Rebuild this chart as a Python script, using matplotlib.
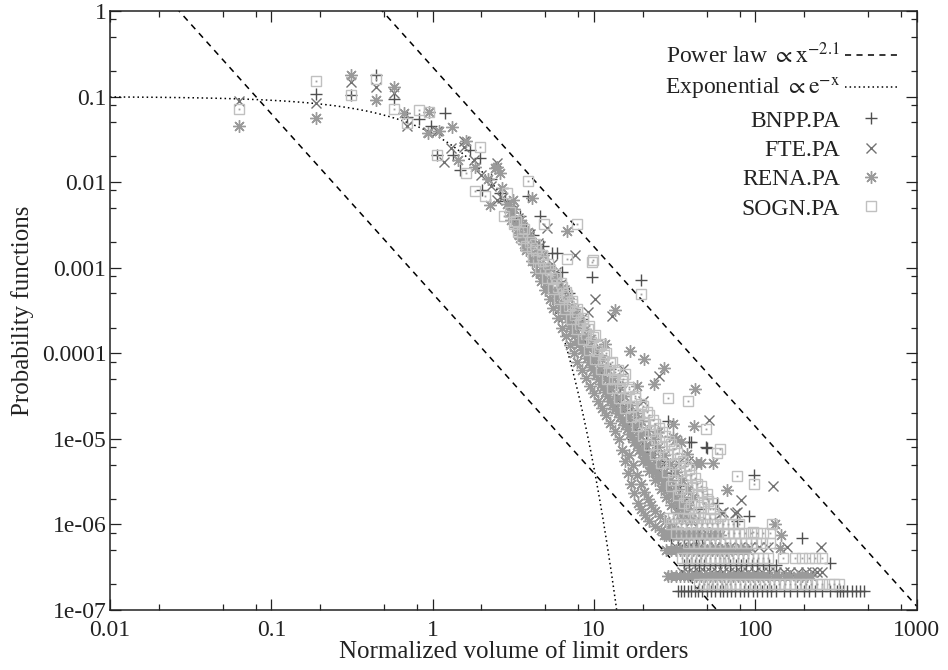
import numpy as np
import matplotlib
matplotlib.use('Agg')
import matplotlib.pyplot as plt
from matplotlib.ticker import FixedLocator, FixedFormatter, LogLocator, NullFormatter
from matplotlib.lines import Line2D

plt.rcParams['font.family'] = ['Liberation Serif', 'DejaVu Serif']
plt.rcParams['mathtext.fontset'] = 'stix'
plt.rcParams['font.size'] = 17

# reference curves
power_exp = 2.1
power_hi = 0.221     # upper power law prefactor
power_lo = 5.0e-4    # lower power law prefactor
expo_amp = 0.1

# tick labels
xticks = [0.01, 0.1, 1, 10, 100, 1000]
xticklabels = ['0.01', '0.1', '1', '10', '100', '1000']
yticks = [1e-7, 1e-6, 1e-5, 1e-4, 1e-3, 1e-2, 1e-1, 1]
yticklabels = ['1e-07', '1e-06', '1e-05', '0.0001', '0.001', '0.01', '0.1', '1']

names = ['BNPP.PA', 'FTE.PA', 'RENA.PA', 'SOGN.PA']

# --- BNPP.PA ---
bnpp_pts = [(0.188, 0.107), (0.313, 0.104), (0.443, 0.18), (0.575, 0.093), (0.695, 0.058),
            (0.82, 0.054), (1.2, 0.065), (0.97, 0.045), (1.07, 0.021), (1.34, 0.0207),
            (1.48, 0.0138), (1.7, 0.024), (1.97, 0.0191), (2.01, 0.0081), (2.3, 0.011),
            (2.6, 0.0075), (2.8, 0.006), (3.0, 0.0052), (3.3, 0.0035), (3.5, 0.004),
            (3.8, 0.0028), (3.9, 0.0068), (4.2, 0.0024), (4.65, 0.004), (4.8, 0.0018),
            (5.2, 0.0011), (5.5, 0.0015), (5.9, 0.0015), (6.0, 7e-4), (6.3, 9e-4),
            (6.5, 4.5e-4), (7.0, 5e-4), (7.2, 3e-4), (7.4, 2.3e-4), (8.0, 2e-4),
            (8.4, 2.5e-4), (8.8, 1.3e-4), (9.7, 7.7e-4), (9.8, 8.5e-5), (9.9, 9e-5),
            (10.5, 1.1e-4), (11, 6e-5), (12, 4e-5), (12.5, 6.5e-5), (13.5, 2.8e-5),
            (14.5, 4e-5), (15, 2e-5), (16.5, 1.4e-5), (17, 2.2e-5), (17.5, 1e-5),
            (19, 1.5e-5), (19.5, 7.2e-4), (20, 7e-6), (21, 1.1e-5), (22, 5e-6),
            (24, 7.5e-6), (25, 3.5e-6), (27, 5.5e-6), (28, 2.5e-6), (28.9, 1.6e-5),
            (30, 4e-6), (32, 1.8e-6), (34, 2.8e-6), (36, 1.3e-6), (38.6, 9.2e-6),
            (39.7, 9.2e-6), (40, 2e-6), (45, 1.5e-6), (49.5, 8.1e-6), (50, 7.9e-6),
            (57.5, 1.8e-6), (77, 1.1e-6), (91, 1.25e-6), (97.5, 3.8e-6), (194, 7e-7),
            (290, 3.5e-7)]
bnpp_band_y = [1.68e-7, 3.36e-7, 5.0e-7, 6.7e-7]
bnpp_band_x = [
    [33, 34.5, 36, 38, 40, 42, 44, 47, 50, 53, 56, 60, 63, 67, 71, 75, 80, 85, 90, 96, 102,
     110, 118, 125, 135, 150, 165, 180, 200, 215, 235, 260, 290, 320, 335, 350, 370, 395,
     420, 445, 470],
    [36, 39, 42, 45, 48, 52, 56, 60, 65, 70, 76, 82, 88, 95, 103, 112, 122, 135],
    [32, 35, 38, 41, 45, 49, 54, 60, 66, 72],
    [30, 33, 36, 39, 43, 47, 52],
]

# --- FTE.PA ---
fte_pts = [(0.0628, 0.0895), (0.188, 0.0835), (0.313, 0.149), (0.443, 0.13), (0.575, 0.109),
           (0.695, 0.045), (0.94, 0.039), (1.07, 0.0397), (1.17, 0.0173), (1.3, 0.025),
           (1.56, 0.030), (1.56, 0.026), (1.8, 0.018), (2.0, 0.012), (2.3, 0.009),
           (2.5, 0.0166), (2.5, 0.0062), (2.7, 0.0065), (3.1, 0.0045), (3.4, 0.0038),
           (3.6, 0.003), (4.0, 0.0025), (4.3, 0.0014), (4.5, 0.00195), (4.65, 0.0018),
           (5.1, 0.0029), (5.5, 0.0011), (5.8, 9e-4), (6.2, 6.5e-4), (6.5, 5.5e-4),
           (6.9, 4e-4), (7.2, 3.4e-4), (7.6, 0.00142), (7.6, 2.8e-4), (8.0, 2.3e-4),
           (8.5, 1.8e-4), (8.9, 1.5e-4), (9.2, 3.0e-4), (9.3, 1.2e-4), (9.8, 1e-4),
           (10.2, 4.3e-4), (10.5, 8e-5), (11, 6.8e-5), (11.5, 5.5e-5), (12.2, 4.6e-5),
           (12.9, 2.7e-4), (13, 3.8e-5), (13.7, 3.3e-5), (14.5, 2.7e-5), (15.2, 6.6e-5),
           (15.3, 2.3e-5), (16, 1.9e-5), (17, 1.6e-5), (18, 1.3e-5), (19, 1.1e-5),
           (20, 9e-6), (20.1, 2.8e-5), (21, 7.8e-6), (22.5, 6.5e-6), (23.5, 5.5e-6),
           (25, 4.5e-6), (25.3, 5.4e-5), (26.5, 3.8e-6), (28, 3.2e-6), (29.5, 2.7e-6),
           (31, 2.3e-6), (33, 2e-6), (33.3, 5.2e-6), (35, 1.6e-6), (37, 1.4e-6),
           (38.1, 5.5e-6), (40, 1.1e-6), (45, 8e-7), (51.8, 1.65e-5), (61, 1.35e-6),
           (63, 1.4e-6), (75, 1.35e-6), (77, 1.4e-6), (82, 1.95e-6), (128, 2.8e-6)]
fte_band_y = [2.75e-7, 5.5e-7, 8.2e-7]
fte_band_x = [
    [35, 38, 41, 45, 49, 53, 58, 63, 69, 75, 82, 90, 100, 110, 122, 135, 150, 165, 185, 207,
     224, 240, 258],
    [32, 35, 38, 41, 45, 50, 56, 63, 70, 80, 92, 105, 120, 157, 255],
    [30, 33, 36, 40, 44, 49, 55],
]

# --- RENA.PA ---
rena_pts = [(0.0628, 0.0457), (0.188, 0.0557), (0.313, 0.179), (0.443, 0.091), (0.575, 0.13),
            (0.66, 0.065), (0.946, 0.066), (0.94, 0.038), (1.1, 0.04), (1.32, 0.0445),
            (1.44, 0.018), (1.6, 0.030), (1.84, 0.0152), (2.2, 0.011), (2.45, 0.0145),
            (2.5, 0.0152), (2.61, 0.0127), (2.26, 0.0054), (3.15, 0.0062), (4.1, 0.0065),
            (6.8, 0.0027),
            # left edge of the bulk
            (2.7, 0.0085), (2.9, 0.0055), (3.1, 0.004), (3.3, 0.003), (3.5, 0.0022),
            (3.8, 0.0016), (4.1, 0.0012), (4.4, 9e-4), (4.7, 7e-4), (5.0, 5.5e-4),
            (5.3, 4.3e-4), (5.6, 3.4e-4), (6.0, 2.6e-4), (6.3, 2e-4), (6.7, 1.6e-4),
            (7.1, 1.25e-4), (7.5, 1e-4), (7.9, 8e-5), (8.4, 6.4e-5), (8.9, 5.2e-5),
            (9.4, 4.2e-5), (10, 3.4e-5), (10.6, 2.8e-5), (11.2, 2.3e-5), (11.9, 1.9e-5),
            (12.6, 1.55e-5), (13.4, 1.25e-5), (14.2, 1e-5), (15, 7.5e-6), (15.6, 5.5e-6),
            (16.3, 4e-6), (17, 3e-6), (17.8, 2.3e-6), (18.7, 1.8e-6), (19.6, 1.5e-6),
            (20.8, 1.3e-6), (22, 1.1e-6), (24, 9.5e-7), (26, 8.5e-7), (28, 7.5e-7),
            # inside the bulk
            (3.05, 0.0036), (3.45, 0.0024), (3.85, 0.0017), (4.25, 0.0012), (4.65, 9e-4),
            (5.1, 6.8e-4), (5.5, 5.1e-4), (5.95, 3.9e-4), (6.4, 3e-4), (6.85, 2.3e-4),
            (7.35, 1.8e-4), (7.85, 1.4e-4), (8.4, 1.1e-4), (9, 8.7e-5), (9.6, 6.9e-5),
            (10.3, 5.5e-5), (11, 4.4e-5), (11.7, 3.5e-5), (12.5, 2.8e-5), (13.4, 2.25e-5),
            (14.4, 1.8e-5), (15.5, 1.45e-5), (16.6, 1.15e-5), (17.8, 9.3e-6), (19.1, 7.5e-6),
            (20.6, 6.1e-6), (22.3, 5e-6), (24, 4.1e-6), (26, 3.4e-6), (28, 2.8e-6),
            (30.5, 2.2e-6), (33, 1.8e-6), (36, 1.5e-6),
            (3.0, 0.0045), (3.4, 0.0028), (3.7, 0.0019), (4.1, 0.0015), (4.6, 0.0011),
            (4.9, 8e-4), (5.3, 6e-4), (5.8, 4.6e-4), (6.2, 3.5e-4), (6.6, 2.7e-4),
            (7.1, 2.1e-4), (7.6, 1.65e-4), (8.1, 1.3e-4), (8.7, 1e-4), (9.3, 8e-5),
            (9.9, 6.3e-5), (10.6, 5e-5), (11.3, 4e-5), (12.1, 3.2e-5), (13, 2.5e-5),
            (14, 2e-5), (15, 1.6e-5), (16, 1.3e-5), (17.2, 1.05e-5), (18.4, 8.5e-6),
            (19.8, 6.9e-6), (21.5, 5.6e-6), (23.2, 4.5e-6), (25, 3.7e-6), (27, 3e-6),
            (29.5, 2.4e-6), (32, 1.95e-6), (34.5, 1.6e-6), (37, 1.35e-6), (40, 1.15e-6),
            (3.2, 0.0048), (3.6, 0.0032), (4.0, 0.0022), (4.5, 0.0015), (5.0, 0.001),
            (5.5, 7.2e-4), (6.0, 5.2e-4), (6.6, 3.8e-4), (7.2, 2.8e-4), (7.8, 2.1e-4),
            (8.5, 1.55e-4), (9.2, 1.15e-4), (10, 8.6e-5), (10.9, 6.5e-5), (11.8, 5e-5),
            (12.8, 3.9e-5), (13.9, 3e-5), (15, 2.3e-5), (16.3, 1.8e-5), (17.7, 1.4e-5),
            (19.2, 1.1e-5), (21, 8.5e-6), (23, 6.6e-6), (25, 5.2e-6), (27, 4.1e-6),
            (29.5, 3.3e-6), (32, 2.6e-6), (35, 2.1e-6), (38, 1.7e-6),
            (3.5, 0.0036), (3.9, 0.0026), (4.3, 0.0019), (4.8, 0.0014), (5.3, 0.001),
            (5.8, 7.6e-4), (6.3, 5.8e-4), (6.9, 4.4e-4), (7.5, 3.3e-4), (8.1, 2.5e-4),
            (8.8, 1.9e-4), (9.5, 1.45e-4), (10.3, 1.1e-4), (11.2, 8.5e-5), (12.1, 6.6e-5),
            (13.1, 5.2e-5), (14.2, 4.1e-5), (15.4, 3.2e-5), (16.7, 2.5e-5), (18.1, 2e-5),
            (19.6, 1.6e-5), (21.3, 1.25e-5), (23.1, 1e-5), (25, 8e-6), (27.2, 6.4e-6),
            (29.6, 5.1e-6), (32.2, 4.1e-6), (35, 3.3e-6), (38, 2.6e-6), (41.3, 2.1e-6),
            (16.5, 6.5e-6), (17.5, 5e-6), (18.5, 3.8e-6), (19.5, 3e-6), (20.5, 2.4e-6),
            (21.5, 2e-6), (22.5, 1.7e-6), (24, 1.45e-6), (25.5, 1.25e-6), (27.5, 1.1e-6),
            (29.5, 9.5e-7), (31.5, 8.5e-7), (20, 5.5e-6), (22, 4.2e-6), (24, 3.3e-6),
            (26, 2.6e-6), (28, 2.1e-6), (30, 1.7e-6), (32.5, 1.4e-6), (35, 1.2e-6),
            # scattered tail
            (11.7, 1.3e-4), (13.5, 3.2e-4), (16.6, 1.05e-4), (18.5, 4.2e-5), (20.3, 8.5e-5),
            (23.7, 4.4e-5), (25, 1.2e-5), (27, 6.8e-5), (30.9, 1.5e-5), (31, 1.05e-5),
            (32, 1.0e-5), (34.4, 9.2e-6), (37.8, 6.6e-6), (41.6, 1.4e-5), (42, 3.8e-5),
            (43, 5.2e-6), (46, 5.2e-6), (55, 5.2e-6), (67, 2.5e-6), (132, 1.0e-6),
            (145, 7.6e-7), (142, 5.3e-7)]
rena_band_y = [2.5e-7, 5.0e-7, 7.5e-7]
rena_band_x = [
    [28.6, 30, 32, 34, 36, 38, 40, 43, 46, 49, 52, 56, 60, 64, 68, 73, 78, 84, 90, 97, 104,
     112, 120, 130, 140, 152, 165, 180, 195, 210, 222],
    [28, 30, 32, 34, 36, 38.5, 41, 44, 47, 50, 54, 58, 62, 67, 72, 78, 84, 90],
    [27, 29, 31, 33, 35.5, 38, 41, 44, 48, 52, 56, 60],
]

# --- SOGN.PA ---
sogn_pts = [(0.0628, 0.0716), (0.188, 0.153), (0.313, 0.104), (0.443, 0.16), (0.575, 0.071),
            (0.695, 0.049), (0.82, 0.069), (0.946, 0.066), (1.07, 0.021), (1.6, 0.0127),
            (1.84, 0.0078), (1.97, 0.026), (2.1, 0.0068), (2.75, 0.004), (2.9, 0.0074),
            (3.9, 0.0102), (4.9, 0.0032), (6.8, 0.00128), (7.9, 0.0032), (9.7, 0.00117),
            (9.9, 0.00123), (19.5, 4.9e-4), (15.5, 5.7e-5), (28.7, 3.0e-5), (38.5, 2.8e-5),
            (49.5, 1.3e-5), (58, 6.8e-6), (60, 7.6e-6), (77, 3.7e-6), (97.5, 3.0e-6),
            (126, 1.0e-6), (96, 8.2e-7),
            # right edge of the bulk
            (3.0, 0.0045), (3.3, 0.0035), (3.6, 0.0026), (4.0, 0.002), (4.4, 0.0016),
            (4.8, 0.0012), (5.3, 9.5e-4), (5.8, 7.5e-4), (6.3, 6e-4), (6.8, 4.8e-4),
            (7.3, 3.8e-4), (7.9, 3e-4), (8.5, 2.4e-4), (9.2, 1.9e-4), (9.9, 1.55e-4),
            (10.7, 1.2e-4), (11.6, 9.5e-5), (12.5, 7.6e-5), (13.5, 6e-5), (15, 4.8e-5),
            (16.5, 3.8e-5), (18, 3e-5), (20, 2.4e-5), (22, 1.9e-5), (24, 1.5e-5),
            (26.5, 1.2e-5), (29, 9.5e-6), (31.5, 7.6e-6), (34, 6e-6), (37, 4.8e-6),
            (40, 3.8e-6), (43.5, 3e-6), (47, 2.4e-6), (51, 1.9e-6), (55, 1.5e-6),
            (60, 1.25e-6),
            # inside the bulk
            (3.2, 0.0032), (3.6, 0.0022), (4.1, 0.0017), (4.5, 0.0013), (5.0, 9.8e-4),
            (5.5, 7.6e-4), (6.0, 5.9e-4), (6.5, 4.6e-4), (7.0, 3.6e-4), (7.6, 2.8e-4),
            (8.2, 2.2e-4), (8.9, 1.7e-4), (9.6, 1.35e-4), (10.4, 1.05e-4), (11.3, 8.2e-5),
            (12.3, 6.4e-5), (13.3, 5e-5), (14.5, 3.9e-5), (15.8, 3.1e-5), (17.2, 2.45e-5),
            (18.8, 1.95e-5), (20.5, 1.55e-5), (22.3, 1.25e-5), (24.3, 1e-5), (26.5, 8e-6),
            (28.8, 6.4e-6), (31.3, 5.1e-6), (34, 4.1e-6), (37, 3.3e-6), (40.5, 2.7e-6),
            (44, 2.2e-6), (48, 1.8e-6), (52, 1.5e-6),
            (3.4, 0.0026), (3.8, 0.0018), (4.2, 0.0013), (4.6, 0.001), (5.1, 7.5e-4),
            (5.6, 5.6e-4), (6.1, 4.3e-4), (6.6, 3.3e-4), (7.2, 2.5e-4), (7.8, 1.9e-4),
            (8.5, 1.45e-4), (9.3, 1.1e-4), (10.1, 8.5e-5), (11, 6.5e-5), (12, 5e-5),
            (13, 3.9e-5), (14.2, 3e-5), (15.5, 2.3e-5), (17, 1.8e-5), (18.5, 1.4e-5),
            (20.2, 1.1e-5), (22, 8.5e-6), (24, 6.6e-6), (26, 5.2e-6), (28.5, 4.1e-6),
            (31, 3.3e-6), (34, 2.6e-6), (37, 2.1e-6), (40, 1.7e-6), (44, 1.4e-6),
            (3.7, 0.0028), (4.3, 0.0019), (4.75, 0.0014), (5.2, 0.0011), (5.7, 8.4e-4),
            (6.2, 6.6e-4), (6.7, 5.2e-4), (7.3, 4.1e-4), (7.9, 3.3e-4), (8.6, 2.6e-4),
            (9.3, 2.1e-4), (10.1, 1.65e-4), (11, 1.3e-4), (11.9, 1.02e-4), (12.9, 8e-5),
            (14, 6.3e-5), (15.2, 5e-5), (16.5, 4e-5), (18, 3.2e-5), (19.6, 2.55e-5),
            (21.3, 2.05e-5), (23.2, 1.65e-5), (25.3, 1.33e-5), (27.6, 1.07e-5), (30, 8.6e-6),
            (32.7, 6.9e-6), (35.6, 5.5e-6), (38.8, 4.4e-6), (42.3, 3.5e-6), (46, 2.8e-6),
            (50, 2.25e-6), (54.5, 1.8e-6),
            (30, 2.8e-6), (33, 2.2e-6), (36, 1.8e-6), (39, 1.5e-6), (42, 1.3e-6),
            (46, 1.6e-6), (50, 2e-6)]
sogn_band_y = [2.0e-7, 4.0e-7, 6.0e-7, 8.0e-7, 1.0e-6, 1.2e-6]
sogn_band_x = [
    [45, 48, 51, 54, 58, 62, 66, 70, 75, 80, 86, 92, 99, 106, 114, 122, 131, 141, 152, 164,
     177, 190, 205, 220, 240, 260, 285, 305, 330],
    [35, 37.5, 40, 43, 46, 49, 52, 56, 60, 64, 68, 73, 78, 84, 90, 97, 104, 112, 120, 148,
     175, 195, 215, 235, 260],
    [38, 41.6, 45, 48, 52, 56, 60, 65, 70, 75, 81, 87, 94, 101, 110, 123],
    [32, 34.5, 37, 40, 43, 46, 50, 54, 58, 63, 68, 74, 79, 86, 94, 103, 112, 123],
    [30, 32, 34.5, 37, 40, 43, 46.5, 50, 54, 58, 63, 68, 73, 79],
    [29, 31, 33, 35.5, 38, 41, 44, 48, 52, 56],
]


def collect(pts, band_x, band_y):
    xs = [p[0] for p in pts]
    ys = [p[1] for p in pts]
    for bx, by in zip(band_x, band_y):
        xs += bx
        ys += [by] * len(bx)
    return np.array(xs), np.array(ys)


fig = plt.figure(figsize=(9.48, 6.70), dpi=100)
ax = fig.add_axes([0.116, 0.0896, 0.851, 0.894])

# fitted curves
xx = np.logspace(-2, 3, 600)
ax.plot(xx, power_hi * xx ** -power_exp, color='black', lw=1.1, ls=(0, (4, 3.5)))
ax.plot(xx, power_lo * xx ** -power_exp, color='black', lw=1.1, ls=(0, (4, 3.5)))
ax.plot(xx, expo_amp * np.exp(-xx), color='black', lw=1.1, ls=(0, (1, 2)))

styles = [
    dict(marker='+', color='#4f4f4f', ms=8, mew=1.0),
    dict(marker='x', color='#727272', ms=7, mew=1.0),
    dict(marker=(8, 2, 0), color='#9a9a9a', ms=9, mew=1.0),
    dict(marker='s', color='#c0c0c0', ms=7, mew=1.0, mfc='none'),
]
series = [collect(bnpp_pts, bnpp_band_x, bnpp_band_y),
          collect(fte_pts, fte_band_x, fte_band_y),
          collect(rena_pts, rena_band_x, rena_band_y),
          collect(sogn_pts, sogn_band_x, sogn_band_y)]

handles = []
for (sx, sy), st in zip(series, styles):
    h, = ax.plot(sx, sy, ls='none', **st)
    handles.append(h)
# the little dot gnuplot puts inside each box
sx, sy = series[3]
ax.plot(sx, sy, ls='none', marker='s', ms=1.3, color='#a0a0a0', mew=0)

ax.set_xscale('log')
ax.set_yscale('log')
ax.set_xlim(0.01, 1000)
ax.set_ylim(1e-7, 1)

ax.xaxis.set_major_locator(FixedLocator(xticks))
ax.xaxis.set_major_formatter(FixedFormatter(xticklabels))
ax.yaxis.set_major_locator(FixedLocator(yticks))
ax.yaxis.set_major_formatter(FixedFormatter(yticklabels))
ax.xaxis.set_minor_locator(LogLocator(base=10, subs=[2, 5, 8], numticks=30))
ax.yaxis.set_minor_locator(LogLocator(base=10, subs=[2, 5, 8], numticks=30))
ax.xaxis.set_minor_formatter(NullFormatter())
ax.yaxis.set_minor_formatter(NullFormatter())
ax.tick_params(which='both', direction='in', top=True, right=True, width=0.9,
               colors='#222222', labelsize=17, labelcolor='#222222')
ax.tick_params(which='major', length=8)
ax.tick_params(axis='x', which='major', pad=7)
ax.tick_params(axis='y', which='major', pad=2.5)
ax.tick_params(which='minor', length=4.5)
for sp in ax.spines.values():
    sp.set_linewidth(1.1)
    sp.set_color('#222222')

ax.set_xlabel('Normalized volume of limit orders', fontsize=18, labelpad=0, color='#222222')
ax.set_ylabel('Probability functions', fontsize=18, labelpad=6, color='#222222')

# legend, gnuplot style (text right aligned, sample on the right)
leg_handles = [Line2D([], [], color='black', lw=1.1, ls=(0, (4, 3.5))),
               Line2D([], [], color='black', lw=1.1, ls=(0, (1, 2)))] + handles
leg_labels = [r'Power law $\propto \mathrm{x}^{-2.1}$',
              r'Exponential $\propto \mathrm{e}^{-\mathrm{x}}$'] + names
leg = ax.legend(leg_handles, leg_labels, loc='upper right', bbox_to_anchor=(0.975, 0.947),
                frameon=False, markerfirst=False, numpoints=1, handlelength=2.2,
                handletextpad=0.2, labelspacing=0.33, borderpad=0, borderaxespad=0,
                fontsize=17)

# redraw the labels right aligned at the end of the text column
fig.canvas.draw()
renderer = fig.canvas.get_renderer()
W, H = fig.canvas.get_width_height()
exts = [t.get_window_extent(renderer) for t in leg.get_texts()]
right = max(e.x1 for e in exts)
for t, e in zip(leg.get_texts(), exts):
    fig.text(right / W, e.y0 / H, t.get_text(), ha='right', va='bottom',
             fontsize=17, color='#222222')
    t.set_visible(False)

fig.savefig('out.png', dpi=100)
